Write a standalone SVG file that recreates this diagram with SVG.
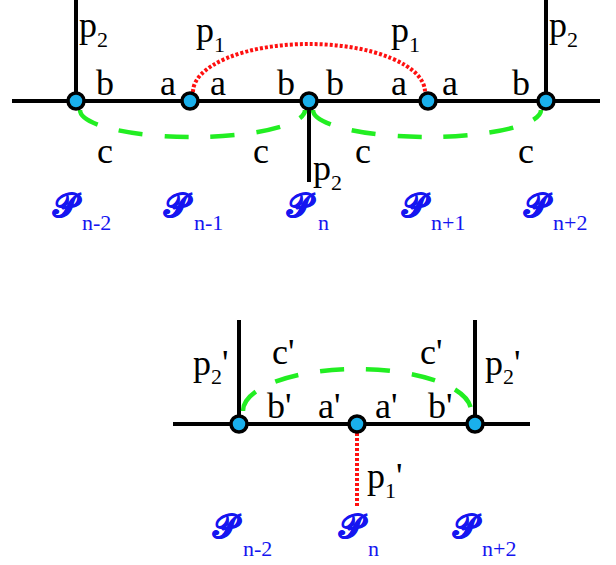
<svg xmlns="http://www.w3.org/2000/svg" width="616" height="565" viewBox="0 0 616 565">
<defs>
<style>
.ln{stroke:#000;stroke-width:4;fill:none}
.red{stroke:#ff1010;stroke-width:4;fill:none;stroke-dasharray:3 2}
.grn{stroke:#22ee22;stroke-width:4.5;fill:none;stroke-dasharray:24 22}
.nd{fill:#1ab0ec;stroke:#000;stroke-width:3.5}
text.t{font-family:"Liberation Serif","Times New Roman",serif;font-size:36px;fill:#000}
tspan.s{font-size:22px}
text.P{font-family:"DejaVu Serif","DejaVu Sans",serif;font-size:34px;font-weight:bold;fill:#1515f0;stroke:#1515f0;stroke-width:0.8}
tspan.Ps{font-family:"Liberation Serif",serif;font-size:22px;font-weight:normal;stroke:none;fill:#1515f0}
</style>
</defs>
<rect width="616" height="565" fill="#fff"/>
<g id="connectors">
<path class="ln" d="M12,101H600"/>
<path class="ln" d="M76,0V101"/>
<path class="ln" d="M546,0V101"/>
<path class="ln" d="M309,101V182"/>
<path class="red" d="M193,92A116,48 0 0 1 425,92"/>
<path class="grn" d="M80,110A112.5,27 0 0 0 305,110"/>
<path class="grn" d="M313,110A114,27 0 0 0 541,110"/>
<path class="ln" d="M173,424H530"/>
<path class="ln" d="M239,320V424"/>
<path class="ln" d="M475,320V424"/>
<path class="red" d="M357,433V507"/>
<path class="grn" d="M243,411A114,42 0 0 1 471,411"/>
</g>
<g id="node-top-n-2"><circle class="nd" cx="76" cy="101" r="8"/></g>
<g id="node-top-n-1"><circle class="nd" cx="190" cy="101" r="8"/></g>
<g id="node-top-n"><circle class="nd" cx="309" cy="101" r="8"/></g>
<g id="node-top-n+1"><circle class="nd" cx="428" cy="101" r="8"/></g>
<g id="node-top-n+2"><circle class="nd" cx="546" cy="101" r="8"/></g>
<g id="node-bot-n-2"><circle class="nd" cx="239" cy="424" r="8"/></g>
<g id="node-bot-n"><circle class="nd" cx="357" cy="424" r="8"/></g>
<g id="node-bot-n+2"><circle class="nd" cx="475" cy="424" r="8"/></g>
<g id="labels-top">
<text class="t" x="79" y="37">p<tspan class="s" x="97" y="47">2</tspan></text>
<text class="t" x="549" y="37">p<tspan class="s" x="567" y="47">2</tspan></text>
<text class="t" x="196" y="42">p<tspan class="s" x="214" y="52">1</tspan></text>
<text class="t" x="391" y="42">p<tspan class="s" x="409" y="52">1</tspan></text>
<text class="t" x="313" y="180">p<tspan class="s" x="331" y="190">2</tspan></text>
<text class="t" x="96" y="95">b</text>
<text class="t" x="160" y="95">a</text>
<text class="t" x="210" y="95">a</text>
<text class="t" x="277" y="95">b</text>
<text class="t" x="326" y="95">b</text>
<text class="t" x="391" y="95">a</text>
<text class="t" x="442" y="95">a</text>
<text class="t" x="512" y="95">b</text>
<text class="t" x="97" y="163">c</text>
<text class="t" x="253" y="163">c</text>
<text class="t" x="355" y="163">c</text>
<text class="t" x="518" y="163">c</text>
</g>
<g id="labels-P-top">
<text class="P" x="53" y="217">𝒫<tspan class="Ps" x="82" y="230">n-2</tspan></text>
<text class="P" x="164" y="217">𝒫<tspan class="Ps" x="194" y="230">n-1</tspan></text>
<text class="P" x="287" y="217">𝒫<tspan class="Ps" x="318" y="230">n</tspan></text>
<text class="P" x="402" y="217">𝒫<tspan class="Ps" x="431" y="230">n+1</tspan></text>
<text class="P" x="524" y="217">𝒫<tspan class="Ps" x="553" y="230">n+2</tspan></text>
</g>
<g id="labels-bottom">
<text class="t" x="193" y="375">p<tspan class="s" x="211" y="384">2</tspan><tspan x="222" y="375">'</tspan></text>
<text class="t" x="485" y="375">p<tspan class="s" x="503" y="384">2</tspan><tspan x="514" y="375">'</tspan></text>
<text class="t" x="272" y="364">c'</text>
<text class="t" x="420" y="364">c'</text>
<text class="t" x="267" y="418">b'</text>
<text class="t" x="318" y="418">a'</text>
<text class="t" x="375" y="418">a'</text>
<text class="t" x="428" y="418">b'</text>
<text class="t" x="367" y="488">p<tspan class="s" x="385" y="498">1</tspan><tspan x="396" y="488">'</tspan></text>
</g>
<g id="labels-P-bottom">
<text class="P" x="213" y="538">𝒫<tspan class="Ps" x="243" y="556">n-2</tspan></text>
<text class="P" x="339" y="538">𝒫<tspan class="Ps" x="368" y="556">n</tspan></text>
<text class="P" x="453" y="538">𝒫<tspan class="Ps" x="482" y="556">n+2</tspan></text>
</g>
</svg>
